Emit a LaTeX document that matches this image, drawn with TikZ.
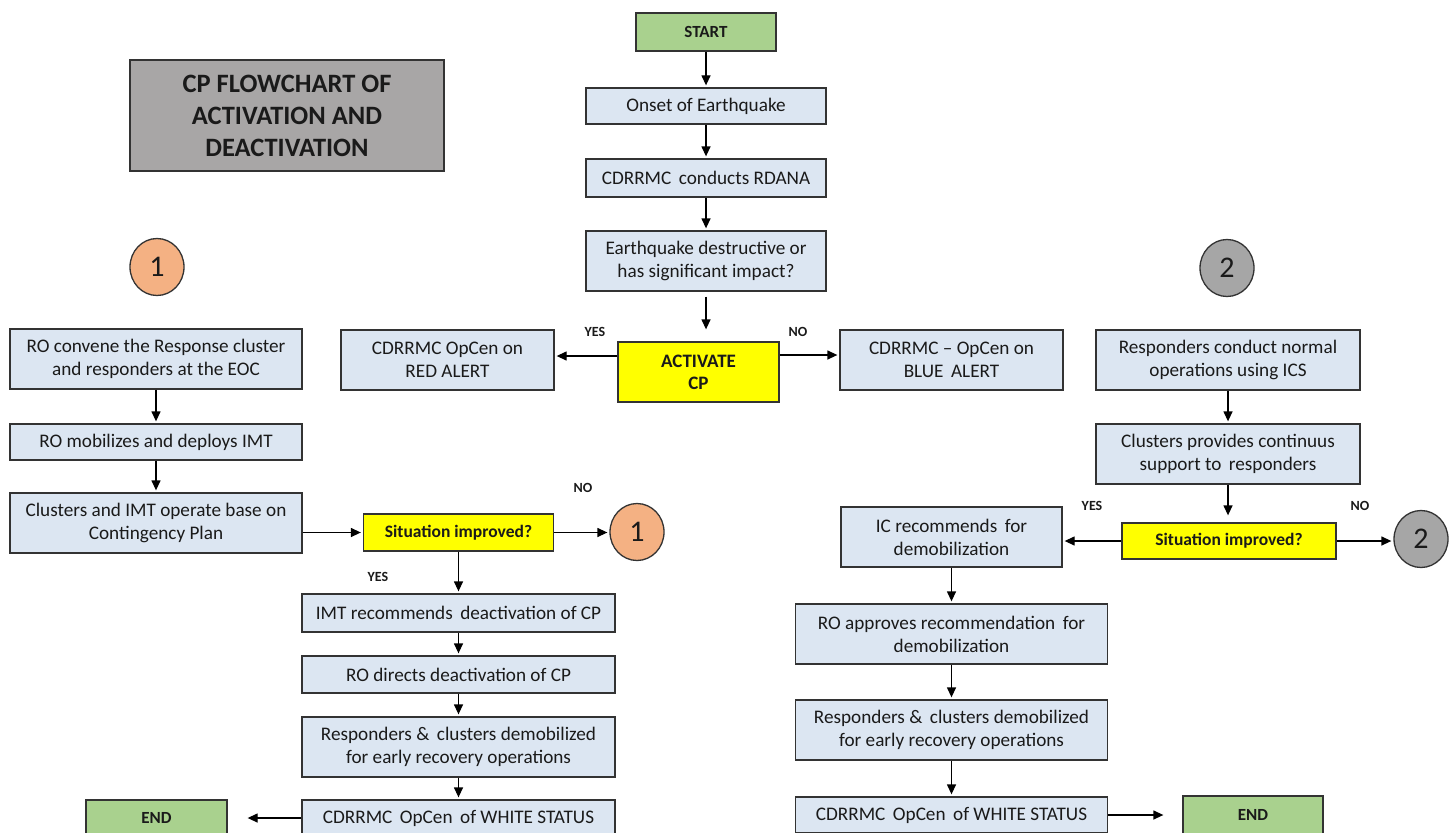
\documentclass[tikz,border=0pt]{standalone}
\usepackage{fontspec}
\setmainfont{Carlito}
\usetikzlibrary{arrows.meta,shapes.geometric}
\definecolor{boxblue}{HTML}{DCE6F2}
\definecolor{boxline}{HTML}{333333}
\definecolor{txt}{HTML}{1A1A1A}
\definecolor{greenbox}{HTML}{A9D18E}
\definecolor{yellowbox}{HTML}{FFFF00}
\definecolor{titlegray}{HTML}{A8A6A6}
\definecolor{orangec}{HTML}{F4B183}
\definecolor{grayc}{HTML}{A6A6A6}
\begin{document}
\begin{tikzpicture}[x=1pt,y=-1pt,
  base/.style={draw=boxline, line width=1.3pt, align=center, inner sep=0pt, text=txt},
  box/.style={base, fill=boxblue, font=\fontsize{19.2}{23}\selectfont},
  ybox/.style={base, fill=yellowbox, font=\bfseries\fontsize{17.5}{22}\selectfont},
  gbox/.style={base, fill=greenbox, font=\bfseries\fontsize{17}{21}\selectfont},
  conn/.style={base, ellipse, minimum width=54pt, minimum height=57pt, font=\fontsize{30}{30}\selectfont},
  lbl/.style={font=\bfseries\fontsize{14}{16}\selectfont, text=txt, inner sep=0pt},
  arr/.style={-{Triangle[length=10pt,width=9pt]}, line width=1.3pt, draw=black, shorten >=2pt}
]
\useasboundingbox (0,0) rectangle (1455,832);
\clip (0,0) rectangle (1455,832);
\fill[white] (0,0) rectangle (1455,832);

% title
\node[base, fill=titlegray, minimum width=314pt, minimum height=111pt,
      font=\bfseries\fontsize{26.5}{32}\selectfont] (title) at (287,115.5)
      {CP FLOWCHART OF\\ACTIVATION AND\\DEACTIVATION};

% top column
\node[gbox, minimum width=140pt, minimum height=38pt] (start) at (706,32) {START};
\node[box, minimum width=240pt, minimum height=36pt] (onset) at (706,106) {Onset of Earthquake};
\node[box, minimum width=240pt, minimum height=38pt] (rdana) at (706,178) {CDRRMC\, conducts RDANA};
\node[box, minimum width=240pt, minimum height=60pt] (eq) at (706,261) {Earthquake destructive or\\has significant impact?};
\node[ybox, minimum width=161pt, minimum height=60pt, font=\bfseries\fontsize{19}{22}\selectfont] (act) at (698.5,372) {ACTIVATE\\CP};
\node[box, minimum width=213pt, minimum height=60pt] (red) at (447.5,360) {CDRRMC OpCen on\\RED ALERT};
\node[box, minimum width=223pt, minimum height=60pt] (blue) at (951.5,360) {CDRRMC -- OpCen on\\BLUE\, ALERT};
\node[lbl] (yes1) at (595,332) {YES};
\node[lbl] (no1) at (798,332) {NO};

% left branch
\node[conn, fill=orangec] (c1a) at (157,267) {1};
\node[box, minimum width=292pt, minimum height=60pt] (conv) at (156,359) {RO convene the Response cluster\\and responders at the EOC};
\node[box, minimum width=292pt, minimum height=36pt] (mob) at (156,442) {RO mobilizes and deploys IMT};
\node[box, minimum width=292pt, minimum height=60pt] (cimt) at (156,523) {Clusters and IMT operate base on\\Contingency Plan};
\node[ybox, minimum width=190pt, minimum height=37pt] (sitl) at (458.5,532.5) {Situation improved?};
\node[conn, fill=orangec] (c1b) at (637,532) {1};
\node[lbl] (no2) at (583,488) {NO};
\node[lbl] (yes2) at (378,577) {YES};
\node[box, minimum width=313pt, minimum height=38pt] (imt) at (458.5,613) {IMT recommends\, deactivation of CP};
\node[box, minimum width=313pt, minimum height=37pt] (rodir) at (458.5,674.5) {RO directs deactivation of CP};
\node[box, minimum width=313pt, minimum height=60pt] (respl) at (458.5,747) {Responders \&\, clusters demobilized\\for early recovery operations};
\node[box, minimum width=313pt, minimum height=36pt] (whitel) at (458.5,818) {CDRRMC\, OpCen\, of WHITE STATUS};
\node[gbox, minimum width=141pt, minimum height=36pt] (endl) at (156.5,818) {END};

% right branch
\node[conn, fill=grayc] (c2a) at (1227,268) {2};
\node[box, minimum width=264pt, minimum height=60pt] (resp) at (1228,360) {Responders conduct normal\\operations using ICS};
\node[box, minimum width=264pt, minimum height=60pt] (clus) at (1228,454) {Clusters provides continuus\\support to\, responders};
\node[ybox, minimum width=214pt, minimum height=36pt] (sitr) at (1229,541) {Situation improved?};
\node[conn, fill=grayc] (c2b) at (1421,539) {2};
\node[lbl] (yes3) at (1092,506) {YES};
\node[lbl] (no3) at (1360,506) {NO};
\node[box, minimum width=221pt, minimum height=60pt] (ic) at (951.5,537) {IC recommends\, for\\demobilization};
\node[box, minimum width=312pt, minimum height=60pt] (roapp) at (951.5,634) {RO approves recommendation\, for\\demobilization};
\node[box, minimum width=312pt, minimum height=60pt] (respr) at (951.5,730) {Responders \&\, clusters demobilized\\for early recovery operations};
\node[box, minimum width=312pt, minimum height=36pt] (whiter) at (951.5,815) {CDRRMC\, OpCen\, of WHITE STATUS};
\node[gbox, minimum width=140pt, minimum height=38pt] (endr) at (1253,815) {END};

% connectors: top
\draw[arr] (start) -- (onset);
\draw[arr] (onset) -- (rdana);
\draw[arr] (rdana) -- (eq);
\draw[arr, shorten <=5pt, shorten >=12pt] (eq.south) -- (eq.south |- act.north);
\draw[arr] (act.west |- 0,356) -- (red.east |- 0,356);
\draw[arr] (act.east |- 0,355) -- (blue.west |- 0,355);

% left
\draw[arr] (conv) -- (mob);
\draw[arr] (mob) -- (cimt);
\draw[arr] (cimt.east |- sitl.west) -- (sitl.west);
\draw[arr] (sitl.east) -- (c1b.west |- sitl.east);
\draw[arr] (sitl) -- (imt);
\draw[arr] (imt) -- (rodir);
\draw[arr] (rodir) -- (respl);
\draw[arr] (respl) -- (whitel);
\draw[arr, shorten >=20pt] (whitel) -- (endl);

% right
\draw[arr] (resp) -- (clus);
\draw[arr, shorten >=7pt] (clus.south) -- (clus.south |- sitr.north);
\draw[arr] (sitr.west) -- (ic.east |- sitr.west);
\draw[arr] (sitr.east) -- (c2b.west |- sitr.east);
\draw[arr] (ic) -- (roapp);
\draw[arr] (roapp) -- (respr);
\draw[arr] (respr) -- (whiter);
\draw[arr, shorten >=19pt] (whiter) -- (endr);
\end{tikzpicture}
\end{document}
